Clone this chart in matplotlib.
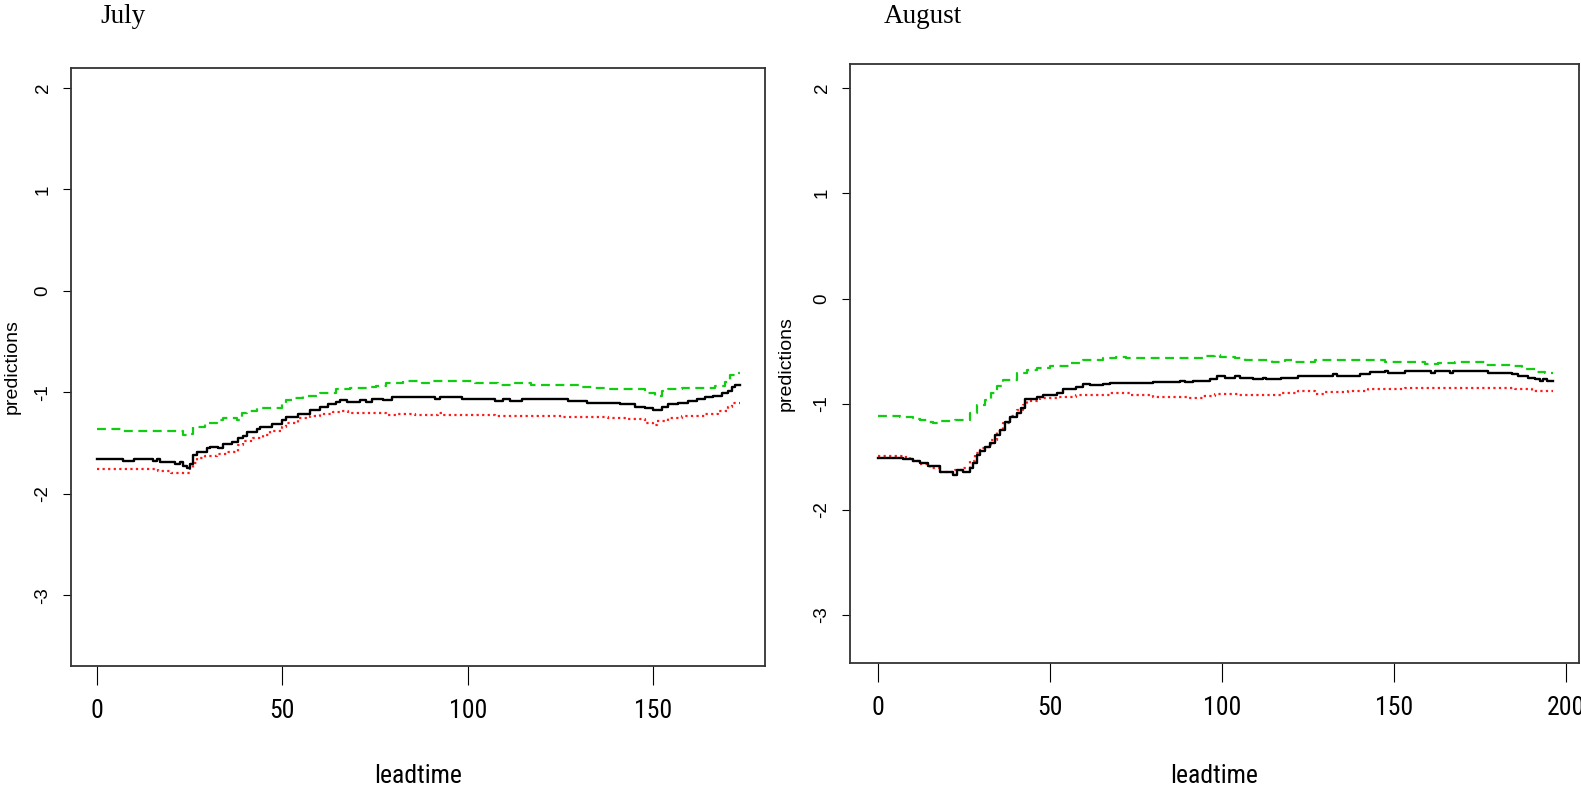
import matplotlib
matplotlib.use("Agg")
import matplotlib.pyplot as plt
from matplotlib import font_manager

# ---- July (step breakpoints and the level held after each one) ----
july_black_x = [0, 7.1, 10.0, 15.2, 16.1, 17.0, 19.7, 21.0, 22.4, 23.3, 24.2, 25.1, 26.0, 26.9,
                29.6, 30.5, 32.7, 34.1, 36.3, 38.1, 39.5, 40.4, 43.1, 44.0, 47.1, 49.8, 51.1,
                54.3, 57.4, 60.2, 62.4, 64.6, 65.5, 67.4, 70.9, 72.7, 74.1, 77.2, 79.5, 91.2,
                92.5, 98.4, 107.4, 109.6, 111.4, 114.6, 127.1, 132.1, 141.1, 145.1, 147.8,
                150.1, 152.3, 154.1, 156.8, 159.5, 161.8, 164.0, 166.3, 168.5, 170.3, 171.2,
                172.1, 173.4]
july_black = [-1.658, -1.678, -1.658, -1.675, -1.658, -1.681, -1.688, -1.701, -1.688, -1.724,
              -1.741, -1.708, -1.616, -1.583, -1.550, -1.533, -1.550, -1.510, -1.491, -1.451,
              -1.425, -1.392, -1.359, -1.340, -1.314, -1.274, -1.241, -1.208, -1.172, -1.139,
              -1.116, -1.090, -1.077, -1.090, -1.074, -1.090, -1.064, -1.074, -1.048, -1.064,
              -1.048, -1.064, -1.080, -1.064, -1.080, -1.064, -1.084, -1.100, -1.116, -1.139,
              -1.156, -1.172, -1.139, -1.116, -1.100, -1.084, -1.064, -1.048, -1.031, -1.008,
              -0.985, -0.943, -0.923]

july_green_x = [0, 7.1, 17.0, 23.3, 24.7, 26.0, 29.2, 32.3, 34.1, 37.7, 39.0, 40.4, 43.1, 49.8,
                51.1, 52.9, 55.6, 60.2, 64.6, 68.2, 73.6, 75.4, 78.1, 82.6, 87.6, 90.3, 101.9,
                108.2, 112.7, 117.2, 130.7, 134.3, 137.9, 147.8, 150.5, 152.3, 154.1, 157.7,
                166.7, 169.4, 170.7, 172.4, 173.4]
july_green = [-1.360, -1.376, -1.379, -1.419, -1.409, -1.336, -1.304, -1.271, -1.248, -1.271,
              -1.205, -1.182, -1.149, -1.107, -1.074, -1.051, -1.035, -1.008, -0.969, -0.959,
              -0.943, -0.933, -0.910, -0.883, -0.903, -0.887, -0.903, -0.923, -0.903, -0.923,
              -0.943, -0.959, -0.969, -1.008, -1.031, -0.985, -0.969, -0.953, -0.933, -0.893,
              -0.828, -0.811]

july_red_x = [0, 16.5, 20.1, 25.1, 26.0, 26.9, 29.1, 32.3, 35.0, 38.1, 39.5, 42.2, 44.9, 46.7,
              49.8, 51.1, 54.3, 57.4, 60.2, 63.8, 65.5, 67.8, 78.1, 81.3, 85.8, 92.1, 93.0,
              107.4, 125.4, 137.9, 143.3, 147.8, 150.1, 151.0, 154.1, 157.7, 164.0, 167.6,
              170.3, 171.2, 173.4]
july_red = [-1.757, -1.770, -1.796, -1.747, -1.698, -1.649, -1.626, -1.606, -1.583, -1.517,
            -1.478, -1.451, -1.419, -1.379, -1.336, -1.304, -1.248, -1.228, -1.215, -1.189,
            -1.182, -1.205, -1.222, -1.212, -1.222, -1.199, -1.222, -1.228, -1.238, -1.248,
            -1.264, -1.304, -1.320, -1.281, -1.248, -1.231, -1.215, -1.182, -1.139, -1.100]

# ---- August ----
aug_black_x = [0, 7.4, 10.3, 12.2, 14.6, 18.0, 21.9, 22.9, 24.8, 26.7, 27.7, 28.7, 29.6, 31.0,
               32.5, 34.0, 35.4, 36.9, 38.3, 40.3, 41.7, 42.7, 46.1, 48.0, 51.9, 53.8, 57.7,
               59.7, 61.6, 65.5, 67.4, 80.0, 87.7, 89.2, 91.6, 96.4, 98.4, 99.4, 100.8, 103.7,
               105.2, 109.0, 111.9, 112.8, 117.2, 122.1, 132.2, 133.3, 140.0, 142.9, 147.3,
               148.3, 153.1, 160.8, 161.8, 166.1, 167.1, 177.3, 184.1, 186.0, 188.9, 190.9,
               192.3, 193.3, 194.3, 196.2]
aug_black = [-1.513, -1.522, -1.544, -1.561, -1.586, -1.640, -1.671, -1.624, -1.640, -1.608,
             -1.561, -1.482, -1.450, -1.403, -1.371, -1.292, -1.245, -1.166, -1.125, -1.087,
             -1.039, -0.954, -0.935, -0.913, -0.891, -0.859, -0.834, -0.809, -0.824, -0.812,
             -0.803, -0.796, -0.783, -0.796, -0.783, -0.764, -0.733, -0.739, -0.755, -0.733,
             -0.749, -0.764, -0.749, -0.764, -0.749, -0.730, -0.714, -0.733, -0.714, -0.701,
             -0.688, -0.707, -0.688, -0.707, -0.688, -0.707, -0.688, -0.704, -0.720, -0.739,
             -0.755, -0.764, -0.783, -0.764, -0.783]

aug_green_x = [0, 6.4, 10.3, 12.2, 14.6, 16.1, 18.0, 22.4, 26.7, 28.7, 31.1, 33.0, 34.5, 36.4,
               40.3, 43.2, 46.1, 50.0, 55.8, 59.7, 65.5, 69.3, 72.2, 94.5, 97.9, 99.3, 103.7,
               106.6, 114.4, 118.2, 121.1, 126.9, 147.3, 158.9, 162.8, 167.6, 176.3, 184.1,
               187.0, 190.9, 193.8, 196.2]
aug_green = [-1.112, -1.124, -1.140, -1.150, -1.166, -1.182, -1.159, -1.156, -1.087, -1.007,
             -0.966, -0.897, -0.828, -0.771, -0.707, -0.676, -0.660, -0.635, -0.613, -0.581,
             -0.565, -0.550, -0.565, -0.543, -0.540, -0.556, -0.565, -0.587, -0.606, -0.587,
             -0.600, -0.587, -0.606, -0.619, -0.613, -0.606, -0.628, -0.644, -0.670, -0.692,
             -0.707]

aug_red_x = [0, 7.4, 9.3, 12.2, 15.1, 18.0, 22.4, 24.8, 26.7, 28.2, 29.6, 31.1, 33.0, 34.5,
             36.4, 38.3, 40.3, 42.2, 43.2, 47.1, 51.9, 57.7, 67.4, 73.2, 80.0, 89.7, 94.5,
             97.9, 104.7, 117.2, 122.1, 126.9, 129.8, 136.6, 138.5, 142.4, 153.1, 185.0,
             189.9, 196.2]
aug_red = [-1.491, -1.504, -1.544, -1.567, -1.608, -1.646, -1.630, -1.608, -1.544, -1.466,
           -1.418, -1.403, -1.339, -1.260, -1.182, -1.118, -1.055, -1.007, -0.970, -0.945,
           -0.929, -0.913, -0.897, -0.913, -0.929, -0.945, -0.922, -0.903, -0.919, -0.897,
           -0.881, -0.903, -0.888, -0.872, -0.881, -0.859, -0.844, -0.859, -0.875]

y_ticks = [-3, -2, -1, 0, 1, 2]

panels = [
    ("July", [0, 50, 100, 150], (-7.0, 180.2), (-3.69, 2.20),
     july_black_x, july_black, july_green_x, july_green, july_red_x, july_red),
    ("August", [0, 50, 100, 150, 200], (-8.1, 203.7), (-3.45, 2.22),
     aug_black_x, aug_black, aug_green_x, aug_green, aug_red_x, aug_red),
]

# narrow sans for the R-style x labels: only take a non-bold upright face
candidates = ["Liberation Sans Narrow", "DejaVu Sans Condensed", "Roboto Condensed",
              "Open Sans Condensed"]
narrow_font, narrow_weight = "Liberation Sans", "normal"
found = [(candidates.index(f.name), abs(int(f.weight) - 400), f.name, int(f.weight))
         for f in font_manager.fontManager.ttflist
         if f.name in candidates and f.style == "normal" and str(f.weight).isdigit()
         and int(f.weight) < 600]
if found:
    found.sort()
    narrow_font, narrow_weight = found[0][2], found[0][3]
narrow = [narrow_font, "DejaVu Sans"]
sans = ["Liberation Sans", "DejaVu Sans"]
serif = ["Liberation Serif", "DejaVu Serif"]
tick_size = 15 if narrow_font == "Liberation Sans" else 18.5

W, H = 1581, 788
fig = plt.figure(figsize=(W / 100, H / 100), dpi=100)
fig.patch.set_facecolor("white")

# axes boxes in pixels: left, top, right, bottom
boxes = [(71, 67.7, 765, 665.5), (850, 64.3, 1579, 662.5)]
title_x = [100, 884]
ylabel_x = [12, 786]

for (title, xt, xl, yl, bx, by, gx, gy, rx, ry), (l, t, r, b), tx, lx in zip(
        panels, boxes, title_x, ylabel_x):
    ax = fig.add_axes([l / W, 1 - b / H, (r - l) / W, (b - t) / H])

    ax.plot(gx, gy + gy[-1:], drawstyle="steps-post", color="#11cc11", lw=1.6,
            linestyle=(0, (4, 2.5)))
    ax.plot(rx, ry + ry[-1:], drawstyle="steps-post", color="#ff1a1a", lw=1.6,
            linestyle=(0, (1, 1.5)))
    ax.plot(bx, by + by[-1:], drawstyle="steps-post", color="black", lw=1.7)

    ax.set_xlim(*xl)
    ax.set_ylim(*yl)
    ax.set_xticks(xt)
    ax.set_yticks(y_ticks)
    ax.set_xticklabels([str(v) for v in xt], family=narrow, fontsize=tick_size,
                       fontweight=narrow_weight)
    ax.set_yticklabels([str(v) for v in y_ticks], family=sans, fontsize=13.5,
                       rotation=90, va="center")
    ax.tick_params(axis="x", direction="out", length=14, width=0.8, pad=10)
    ax.tick_params(axis="y", direction="out", length=6, width=0.8, pad=8)
    for s in ax.spines.values():
        s.set_linewidth(1.3)
        s.set_color("#333333")

    ax.set_xlabel("leadtime", family=narrow, fontsize=tick_size, fontweight=narrow_weight)
    ax.xaxis.set_label_coords(0.5, -(776 - b) / (b - t))
    ax.xaxis.label.set_va("center")
    ax.set_ylabel("predictions", family=sans, fontsize=14)
    ax.yaxis.set_label_coords((lx - l) / (r - l), 0.5)
    ax.yaxis.label.set_va("center")

    fig.text(tx / W, 1 - 23 / H, title, family=serif, fontsize=19.5, va="baseline",
             ha="left")

fig.savefig("out.png", dpi=100, facecolor="white")
